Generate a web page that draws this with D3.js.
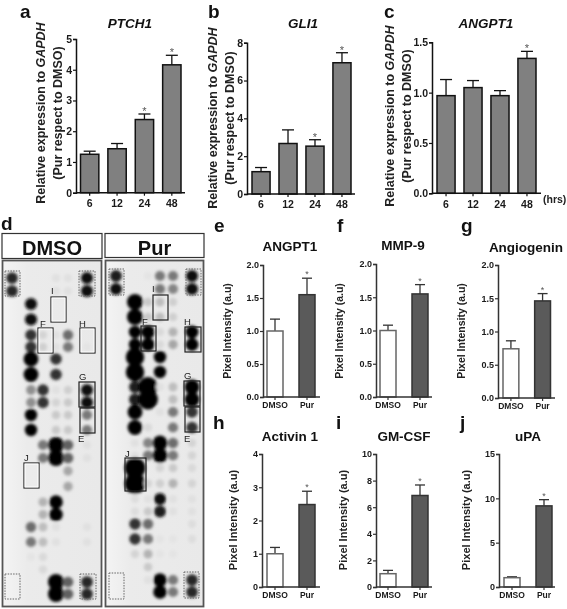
<!DOCTYPE html>
<html><head><meta charset="utf-8">
<script src="https://cdn.jsdelivr.net/npm/d3@7/dist/d3.min.js"></script>
<style>html,body{margin:0;padding:0;background:#fff}svg{display:block;opacity:.999}
text{font-family:"Liberation Sans",Arial,sans-serif}</style></head>
<body><svg id="c" width="567" height="609"></svg>
<script>
// ---------- data ----------
const hours = ["6","12","24","48"];
const groups = ["DMSO","Pur"];
const ptch1Values = [1.25,1.43,2.38,4.16], ptch1Errors = [0.10,0.17,0.18,0.31];
const gli1Values = [1.18,2.67,2.53,6.94], gli1Errors = [0.22,0.72,0.34,0.53];
const angpt1Values = [0.97,1.05,0.97,1.34], angpt1Errors = [0.16,0.07,0.05,0.07];
const ptch1Stars = [0,0,1,1], gli1Stars = [0,0,1,1], angpt1Stars = [0,0,0,1];
const arrayAngpt1 = [1.0,1.55], arrayAngpt1Err = [0.18,0.25];
const mmp9 = [1.0,1.55], mmp9Err = [0.08,0.14];
const angiogenin = [0.74,1.46], angiogeninErr = [0.12,0.11];
const activin1 = [1.0,2.48], activin1Err = [0.19,0.40];
const gmCsf = [1.0,6.88], gmCsfErr = [0.25,0.79];
const uPA = [1.05,9.15], uPAErr = [0.10,0.70];
const pairStars = [0,1];

// blot spot intensity: one list per row of the array, six columns
const dmsoSpots = [
[.85,0,0,.05,.05,.95],[.85,0,0,.05,.05,.95],[0,.95,0,0,0,0],[0,.95,0,0,0,0],
[0,.8,.1,.05,.55,0],[0,.8,.12,.05,.5,.03],[0,1.2,0,.8,0,0],[0,1.2,0,.8,0,0],
[0,.4,.8,.05,.12,.95],[0,.4,.8,.1,.15,.95],[0,1,0,.15,.15,.5],[0,1,0,.15,.15,.5],
[0,0,.5,1.3,.6,.05],[0,0,.5,1.3,.6,.05],[0,0,0,0,.3,0],[0,0,0,0,.3,0],
[0,0,.25,1.1,0,0],[0,0,.25,1.1,0,0],[0,.55,.2,.05,0,.05],[0,.5,.2,.05,0,.05],
[0,.03,.08,0,0,0],[0,0,.08,0,0,0],[0,0,0,1.3,.6,.85],[0,0,0,1.3,.6,.85]];
const purSpots = [
[.9,0,.03,.5,.5,.95],[.95,0,0,.5,.45,.95],[0,1.3,.15,.2,.12,0],[0,1.3,.15,.2,.12,0],
[0,1,1.1,.08,.25,1.05],[0,1,1.1,.08,.3,1.05],[0,1.5,0,1,0,0],[0,1.5,0,1,0,0],
[0,.9,1.6,.05,.2,1.2],[0,.9,1.6,0,.2,1.2],[0,1.2,0,.05,.5,.8],[0,1.2,.08,0,.5,.8],
[0,.05,.45,1.2,.55,.1],[0,.05,.5,1.2,.5,.1],[0,1.7,0,.1,.15,.08],[0,1.7,.1,.12,.25,.1],
[0,.06,.05,.95,.05,.05],[0,.06,.15,.9,.05,.05],[0,.8,.55,0,0,.06],[0,.8,.5,.03,.03,.06],
[0,.1,.25,.03,.03,0],[0,0,.15,0,0,0],[0,0,.05,1.1,.5,.85],[0,0,0,1.1,.5,.85]];

const boxLabels = ["I","F","H","G","E","J"];

// ---------- layout ----------
const svg = d3.select("#c");
const FONT = '"Liberation Sans",Arial,sans-serif';
svg.append("rect").attr("width",567).attr("height",609).attr("fill","#fff");

const defs = svg.append("defs");
defs.append("filter").attr("id","soft").attr("x","-5%").attr("y","-5%").attr("width","110%").attr("height","110%")
  .append("feGaussianBlur").attr("stdDeviation",1.7);
const grad = defs.append("linearGradient").attr("id","film");
grad.append("stop").attr("offset","0").attr("stop-color","#f4f4f4");
grad.append("stop").attr("offset","0.25").attr("stop-color","#ebebeb");
grad.append("stop").attr("offset","1").attr("stop-color","#e9e9e9");

function barPanel(o){
  const g = svg.append("g");
  const y = d3.scaleLinear().domain([0,o.max]).range([o.y0,o.yTop]);
  const x = d3.scaleBand().domain(o.cats).range(o.xr).paddingInner(o.gap);
  o.values.forEach((v,i)=>{
    const cx = x(o.cats[i])+x.bandwidth()/2;
    const top = y(v+o.errs[i]);
    g.append("line").attr("x1",cx).attr("x2",cx).attr("y1",y(v)).attr("y2",top).attr("stroke",o.errCol).attr("stroke-width",1.3);
    g.append("line").attr("x1",cx-o.cap).attr("x2",cx+o.cap).attr("y1",top).attr("y2",top).attr("stroke",o.errCol).attr("stroke-width",1.3);
    g.append("rect").attr("x",x(o.cats[i])).attr("y",y(v)).attr("width",x.bandwidth()).attr("height",o.y0-y(v))
      .attr("fill",o.fills[i]).attr("stroke",o.strokes[i]).attr("stroke-width",1.5);
    if(o.stars[i]) g.append("text").attr("x",cx).attr("y",top-o.starGap).attr("text-anchor","middle")
      .attr("font-size",o.starSize).attr("fill","#555").text("*");
  });
  const ay = d3.axisLeft(y).tickValues(o.ticks).tickFormat(o.fmt).tickSize(o.tick).tickPadding(1);
  const gy = g.append("g").attr("transform",`translate(${o.x0},0)`).call(ay);
  const ax = d3.axisBottom(x).tickSize(o.tick).tickSizeOuter(0).tickPadding(o.xPad);
  const gx = g.append("g").attr("transform",`translate(0,${o.y0})`).call(ax);
  gx.select(".domain").remove();
  g.append("line").attr("x1",o.x0).attr("x2",o.xEnd).attr("y1",o.y0).attr("y2",o.y0).attr("stroke",o.axisCol).attr("stroke-width",1.5);
  [gy,gx].forEach(a=>{
    a.selectAll("text").attr("font-family",FONT).attr("font-weight","bold").attr("font-size",o.tickFont).attr("fill","#1a1a1a");
    a.selectAll(".tick line").attr("stroke",o.axisCol).attr("stroke-width",1.2);
    a.select(".domain").attr("stroke",o.axisCol).attr("stroke-width",1.5);
  });
  gx.selectAll("text").attr("font-size",o.xFont||o.tickFont);
  g.append("text").attr("x",o.tx).attr("y",o.ty).attr("text-anchor","middle").attr("font-size",o.titleSize)
   .attr("font-weight","bold").attr("font-style",o.italic?"italic":"normal").attr("fill","#111").text(o.title);
  o.ylab(g);
}
function geneLabel(cx,cy){
  return g=>{
    const t=g.append("text").attr("transform",`translate(${cx},${cy}) rotate(-90)`).attr("text-anchor","middle")
      .attr("font-size",12.5).attr("font-weight","bold").attr("fill","#222");
    t.append("tspan").text("Relative expression to ");
    t.append("tspan").attr("font-style","italic").text("GAPDH");
    g.append("text").attr("transform",`translate(${cx+17},${cy}) rotate(-90)`).attr("text-anchor","middle")
      .attr("font-size",12.5).attr("font-weight","bold").attr("fill","#222").text("(Pur respect to DMSO)");
  };
}
function pixelLabel(cx,cy,size){
  return g=>g.append("text").attr("transform",`translate(${cx},${cy}) rotate(-90)`).attr("text-anchor","middle")
    .attr("font-size",size).attr("font-weight","bold").attr("fill","#222").text("Pixel Intensity (a.u)");
}
const geneBase = {cats:hours,gap:.33,cap:6,errCol:"#111",axisCol:"#111",fills:["#808080","#808080","#808080","#808080"],
  strokes:["#111","#111","#111","#111"],starGap:-1,starSize:11,tick:3,xPad:4,tickFont:10.5,titleSize:13.5,italic:true};
const f0 = d3.format("d"), f1 = d3.format(".1f");

barPanel({...geneBase,values:ptch1Values,errs:ptch1Errors,stars:ptch1Stars,max:5,ticks:[0,1,2,3,4,5],fmt:f0,
  x0:76,xEnd:185,y0:192.7,yTop:39,xr:[80.5,181],title:"PTCH1",tx:130,ty:28,ylab:geneLabel(45,113)});
barPanel({...geneBase,values:gli1Values,errs:gli1Errors,stars:gli1Stars,max:8,ticks:[0,2,4,6,8],fmt:f0,
  x0:247,xEnd:355,y0:194,yTop:42.7,xr:[252,351],title:"GLI1",tx:303,ty:28,ylab:geneLabel(217,118)});
barPanel({...geneBase,values:angpt1Values,errs:angpt1Errors,stars:angpt1Stars,max:1.5,ticks:[0,.5,1,1.5],fmt:f1,
  x0:432,xEnd:541,y0:193.3,yTop:42.3,xr:[437,536],title:"ANGPT1",tx:486,ty:28,ylab:geneLabel(394,116)});
svg.append("text").attr("x",543).attr("y",203).attr("font-size",10.5).attr("font-weight","bold").attr("fill","#222").text("(hrs)");

const pairBase = {cats:groups,gap:.5,cap:5,errCol:"#333",axisCol:"#333",fills:["#fff","#5a5a5a"],strokes:["#666","#333"],
  stars:pairStars,starGap:1,starSize:9,tick:3,xPad:2,tickFont:9,xFont:8.5,titleSize:13.5,italic:false};
barPanel({...pairBase,values:arrayAngpt1,errs:arrayAngpt1Err,max:2,ticks:[0,.5,1,1.5,2],fmt:f1,
  x0:263,xEnd:320,y0:397,yTop:265,xr:[267,315],title:"ANGPT1",tx:290,ty:251,ylab:pixelLabel(231,331,10.5)});
barPanel({...pairBase,values:mmp9,errs:mmp9Err,max:2,ticks:[0,.5,1,1.5,2],fmt:f1,
  x0:376,xEnd:432,y0:397,yTop:264,xr:[380,428],title:"MMP-9",tx:403,ty:250,ylab:pixelLabel(343,331,10.5)});
barPanel({...pairBase,values:angiogenin,errs:angiogeninErr,max:2,ticks:[0,.5,1,1.5,2],fmt:f1,
  x0:498,xEnd:555,y0:398,yTop:265,xr:[503,550.5],title:"Angiogenin",tx:526,ty:252,ylab:pixelLabel(465,331,10.5)});
barPanel({...pairBase,values:activin1,errs:activin1Err,max:4,ticks:[0,1,2,3,4],fmt:f0,
  x0:262,xEnd:320,y0:587,yTop:454,xr:[267,315],title:"Activin 1",tx:290,ty:441,ylab:pixelLabel(237,520,11)});
barPanel({...pairBase,values:gmCsf,errs:gmCsfErr,max:10,ticks:[0,2,4,6,8,10],fmt:f0,
  x0:376,xEnd:432,y0:587,yTop:454,xr:[380,428],title:"GM-CSF",tx:404,ty:441,ylab:pixelLabel(347,520,11)});
barPanel({...pairBase,values:uPA,errs:uPAErr,max:15,ticks:[0,5,10,15],fmt:f0,
  x0:499,xEnd:555,y0:587,yTop:454,xr:[504,552],title:"uPA",tx:528,ty:441,ylab:pixelLabel(470,520,11)});

const letters = ["a","b","c","d","e","f","g","h","i","j"];
const letterAt = [[20,17.5],[208,17.5],[384,17.5],[1,230],[214,232],[337,232],[461,232],[213,429],[336,429],[460,429]];
letters.forEach((l,i)=>svg.append("text").attr("x",letterAt[i][0]).attr("y",letterAt[i][1])
  .attr("font-size",19).attr("font-weight","bold").attr("fill","#111").text(l));

function blot(o){
  const g = svg.append("g");
  g.append("rect").attr("x",o.x).attr("y",233.5).attr("width",o.w).attr("height",o.hh)
    .attr("fill","#fff").attr("stroke","#333").attr("stroke-width",1.2);
  g.append("text").attr("x",o.x+o.w/2).attr("y",254.5).attr("text-anchor","middle")
    .attr("font-family",'"Noto Sans",sans-serif').attr("font-weight","bold").attr("font-size",o.headSize).attr("fill","#111").text(o.name);
  g.append("rect").attr("x",o.x+.5).attr("y",260.5).attr("width",o.w-1).attr("height",346)
    .attr("fill","url(#film)").attr("stroke","#555").attr("stroke-width",1.8);
  const col = d3.scaleOrdinal([0,1,2,3,4,5],o.cols);
  const row = d3.scaleLinear().domain([0,2,4,6,8,10,12,14,16,18,20,22,23]).range(o.rows);
  const r = d3.scaleLinear().domain([0,1,1.7]).range([4,6.2,10.5]);
  const shade = d3.scaleLinear().domain([0,1]).range(["#ebebeb","#050505"]).clamp(true);
  const spots = o.data.flatMap((vals,ri)=>vals.map((v,ci)=>({v,ri,ci}))).filter(d=>d.v>0);
  g.append("g").attr("filter","url(#soft)").selectAll("circle").data(spots).join("circle")
    .attr("cx",d=>col(d.ci)).attr("cy",d=>row(d.ri)).attr("r",d=>r(d.v)).attr("fill",d=>shade(d.v));
  g.selectAll("rect.box").data(o.boxes).join("rect").attr("class","box")
    .attr("x",d=>d[0]).attr("y",d=>d[2]).attr("width",d=>d[1]-d[0]).attr("height",d=>d[3]-d[2])
    .attr("fill","none").attr("stroke",d=>d[4]?"#666":"#222").attr("stroke-width",d=>d[4]?1:1.2)
    .attr("stroke-dasharray",d=>d[4]?"1.5 1.2":null);
  g.selectAll("rect.halo").data(o.boxes.filter(d=>d[5])).join("rect").attr("class","halo")
    .attr("x",d=>d[0]+1).attr("y",d=>d[2]+1).attr("width",d=>d[1]-d[0]-2).attr("height",d=>d[3]-d[2]-2)
    .attr("fill","none").attr("stroke","#fff").attr("stroke-width",1);
  g.selectAll("text.lab").data(boxLabels).join("text").attr("class","lab")
    .attr("x",(d,i)=>o.labs[i][0]).attr("y",(d,i)=>o.labs[i][1])
    .attr("font-family",'"Noto Sans",sans-serif').attr("font-size",9.5).attr("fill","#222").text(d=>d);
}
blot({name:"DMSO",x:2,w:100,hh:25,headSize:20,data:dmsoSpots,cols:[12,31,43,56,68,87],
  rows:[278,304,335,359,390,415,445,471,502,527,557,582,594],
  boxes:[[5,20,271,296,1],[79,95,271,296,1],[51,66,297,322,0,1],[38,53,328,353,0,1],[80,95,328,353,0,1],
         [79,95,382,407,0],[80,95,408,433,0],[24,39,463,488,0,1],[5,20,574,599,1],[80,96,574,599,1]],
  labs:[[51,294],[40,327],[79,327],[79,380],[78,442],[24,461]]});
blot({name:"Pur",x:105,w:99,hh:24,headSize:20,data:purSpots,cols:[116,135,148,160,173,192],
  rows:[276,302,332,357,387,412,443,468,499,524,554,580,592],
  boxes:[[109,124,269,295,1],[186,201,269,295,1],[153,168,295,320,0],[141,156,326,351,0],[185,201,327,352,0],
         [184,200,381,406,0],[185,200,407,432,0],[125,146,458,491,0],[109,124,573,599,1],[184,199,572,598,1]],
  labs:[[152,292],[142,325],[184,325],[184,379],[184,442],[125,457]]});
</script></body></html>
